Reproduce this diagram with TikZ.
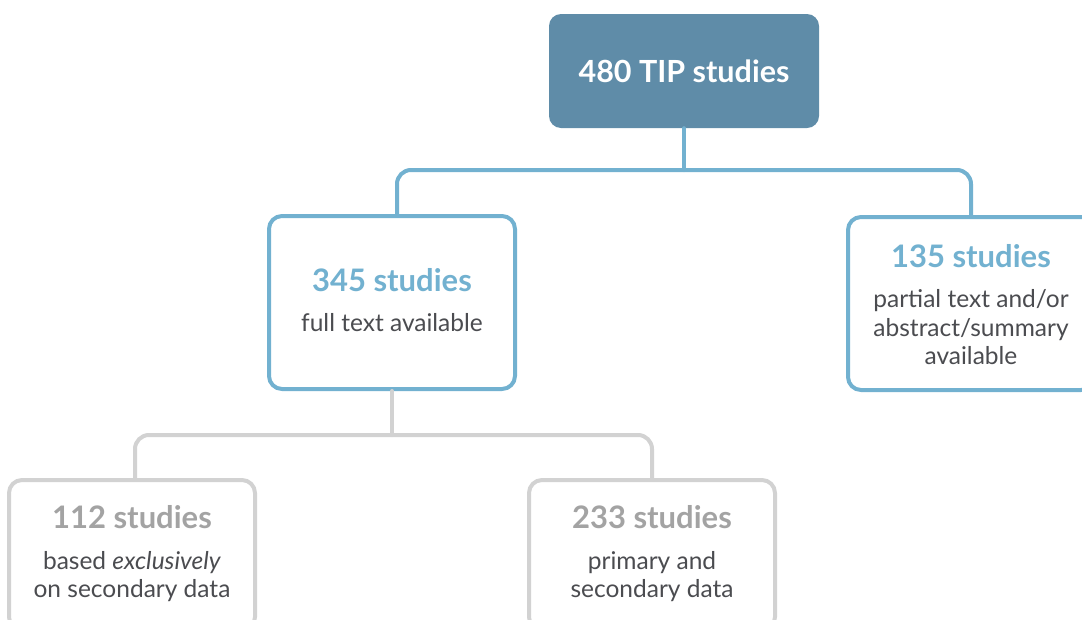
\documentclass[tikz,border=0pt]{standalone}
\usepackage{fontspec}
\setmainfont{Lato}
\usetikzlibrary{positioning}
\definecolor{topfill}{HTML}{5F8CA8}
\definecolor{lineblue}{HTML}{72B1D0}
\definecolor{linegray}{HTML}{D2D2D2}
\definecolor{titlegray}{HTML}{A3A3A3}
\definecolor{bodytext}{HTML}{4B4C50}
\newcommand\heading[2]{{\fontsize{31}{32}\selectfont\bfseries\color{#1}#2}}
\begin{document}
\begin{tikzpicture}[x=1pt,y=-1pt, line join=round, line cap=round,
    box/.style={rectangle, rounded corners=13pt, line width=4pt, fill=white,
        minimum width=246pt, align=center, text=bodytext,
        font=\fontsize{24.5}{28.5}\selectfont},
    bluebox/.style={box, draw=lineblue, minimum height=173pt},
    graybox/.style={box, draw=linegray, minimum height=150pt},
    bluelink/.style={line width=4pt, draw=lineblue, rounded corners=14pt},
    graylink/.style={line width=4pt, draw=linegray, rounded corners=14pt}]
    \useasboundingbox (0,0) rectangle (1082,619);
    \node[rectangle, rounded corners=12pt, fill=topfill, minimum width=270pt,
        minimum height=114pt, text=white, font=\fontsize{30.5}{32}\selectfont\bfseries]
        (all) at (684,71) {480 TIP studies};
    \node[bluebox, minimum height=173pt, text depth=0pt] (full) at (392,302.5) {};
    \node[align=center, text=bodytext, font=\fontsize{24.5}{28.5}\selectfont]
        (fulltxt) at (392,300)
        {\heading{lineblue}{345 studies}\\[12pt] full text available};
    \node[bluebox, minimum height=173pt] (part) at (971,303.5) {};
    \node[align=center, text=bodytext, font=\fontsize{24.5}{28.5}\selectfont]
        (parttxt) at (971,304.5)
        {\heading{lineblue}{135 studies}\\[12pt] partial text and/or\\ abstract/summary\\ available};
    \node[graybox] (sec) at (132,555) {};
    \node[align=center, text=bodytext, font=\fontsize{24.5}{28.5}\selectfont]
        (sectxt) at (132,554)
        {\heading{titlegray}{112 studies}\\[12pt] based \textit{exclusively}\\ on secondary data};
    \node[graybox] (prim) at (652,555) {};
    \node[align=center, text=bodytext, font=\fontsize{24.5}{28.5}\selectfont]
        (primtxt) at (652,554)
        {\heading{titlegray}{233 studies}\\[12pt] primary and\\ secondary data};
    % tree links
    \coordinate (hub) at (684,170);
    \coordinate (hubb) at (392,435);
    \draw[bluelink] (all.south) -- (hub);
    \draw[bluelink] (hub) -| ([xshift=5pt]full.north);
    \draw[bluelink] (hub) -| (part.north);
    \draw[graylink] (full.south) -- (hubb);
    \draw[graylink] (hubb) -| ([xshift=3pt]sec.north);
    \draw[graylink] (hubb) -| (prim.north);
\end{tikzpicture}
\end{document}
